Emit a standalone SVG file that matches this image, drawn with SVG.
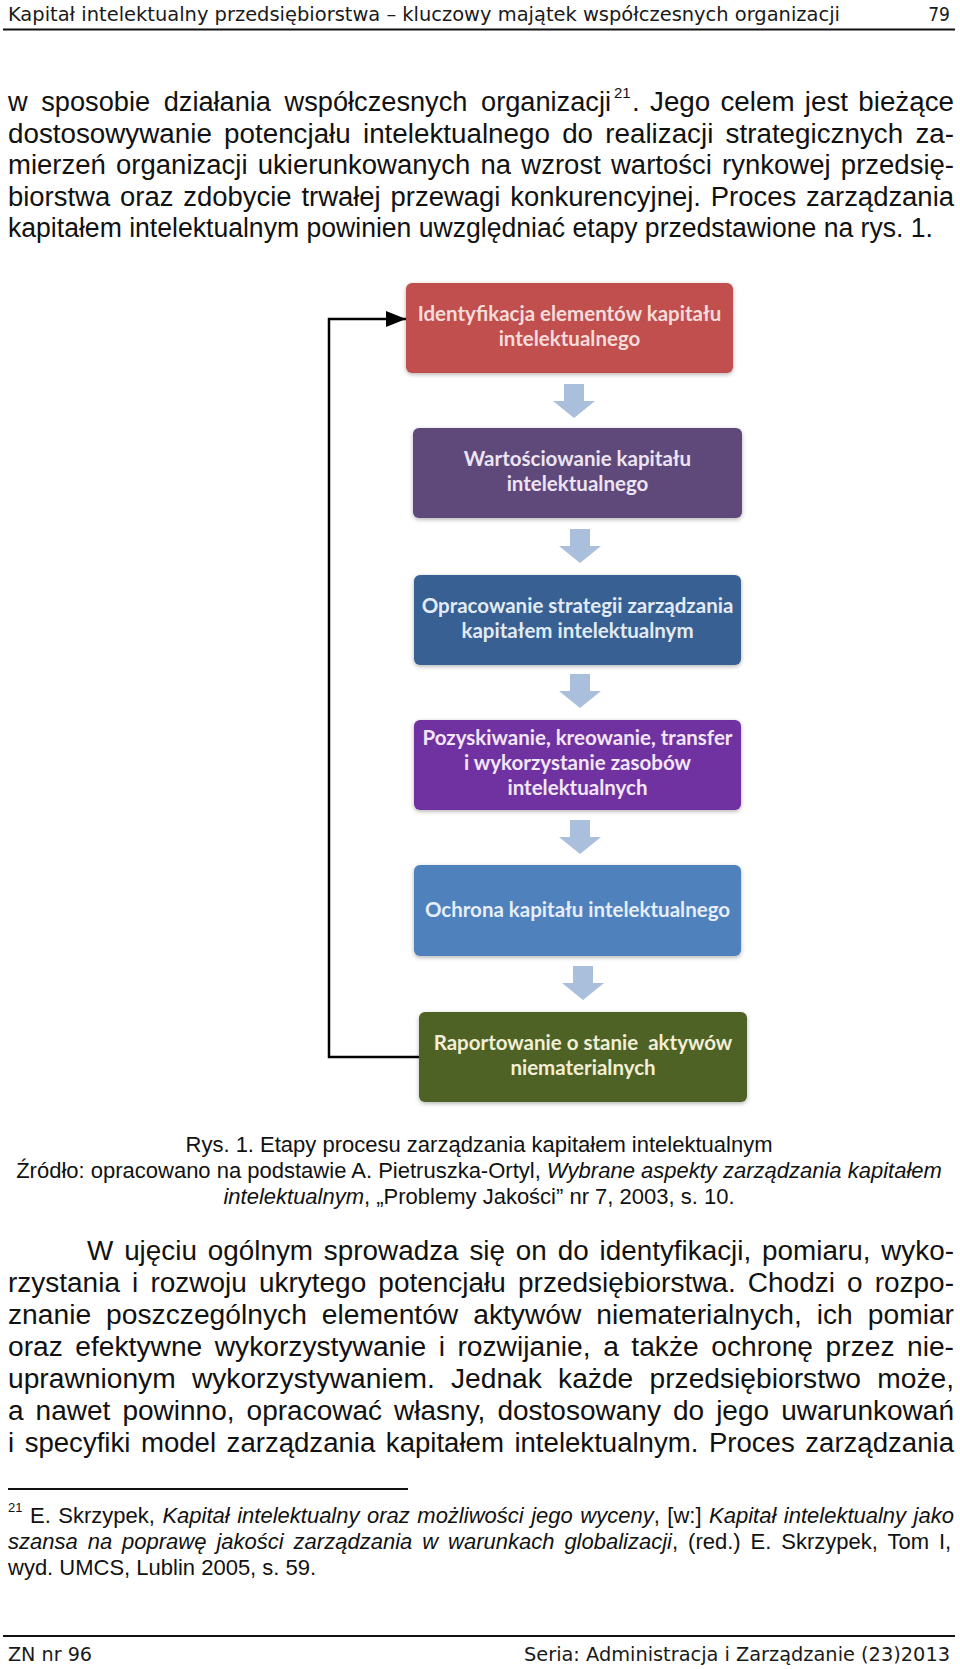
<svg xmlns="http://www.w3.org/2000/svg" xmlns:xlink="http://www.w3.org/1999/xlink" width="960" height="1669" viewBox="0 0 960 1669">
<style>
.bg{fill:#ffffff}
.hdr{font-family:"DejaVu Sans Condensed","DejaVu Sans","Liberation Sans",sans-serif;font-size:19px;fill:#1a1a1a}
.body{font-family:"Liberation Sans",Arial,sans-serif;font-size:27px;fill:#111}
.sup{font-family:"Liberation Sans",Arial,sans-serif;font-size:15px;fill:#111}
.cap{font-family:"Liberation Sans",Arial,sans-serif;font-size:22px;fill:#111}
.fn{font-family:"Liberation Sans",Arial,sans-serif;font-size:22px;fill:#111}
.fnsup{font-family:"Liberation Sans",Arial,sans-serif;font-size:13px;fill:#111}
.it{font-style:italic}
.rule{stroke:#111;stroke-width:2;fill:none}
.lbl{font-family:Lato,"Open Sans","Liberation Sans",sans-serif;font-size:20.5px;font-weight:bold;text-anchor:middle}
.blk{fill:#a9bfdc}
.fb{stroke:#000;stroke-width:2.5;fill:none}
</style>
<defs>
<filter id="sh" x="-10%" y="-10%" width="120%" height="130%">
<feDropShadow dx="0" dy="1.5" stdDeviation="2" flood-color="#000" flood-opacity="0.3"/>
</filter>
<path id="blk" d="M-10,0 H10 V17 H21 L0,34 L-21,17 H-10 Z"/>
<marker id="ah" markerUnits="userSpaceOnUse" markerWidth="20" markerHeight="16" refX="20" refY="8" orient="auto">
<path d="M0,0 L20,8 L0,16 Z" fill="#000"/>
</marker>
</defs>
<rect class="bg" x="0" y="0" width="960" height="1669"/>

<g id="header">
<text class="hdr" x="8" y="21" textLength="832" lengthAdjust="spacingAndGlyphs">Kapitał intelektualny przedsiębiorstwa – kluczowy majątek współczesnych organizacji</text>
<text class="hdr" x="950" y="21" text-anchor="end">79</text>
<line class="rule" x1="3" y1="29.5" x2="955" y2="29.5"/>
</g>

<g id="paragraph-1">
<text class="body" x="8" y="111" word-spacing="6" textLength="603" lengthAdjust="spacingAndGlyphs">w sposobie działania współczesnych organizacji</text>
<text class="sup" x="614" y="98">21</text>
<text class="body" x="632" y="111" word-spacing="2.5" textLength="322" lengthAdjust="spacingAndGlyphs">. Jego celem jest bieżące</text>
<text class="body" x="8" y="142.6" word-spacing="4.4" textLength="946" lengthAdjust="spacingAndGlyphs">dostosowywanie potencjału intelektualnego do realizacji strategicznych za-</text>
<text class="body" x="8" y="174.2" word-spacing="2.5" textLength="946" lengthAdjust="spacingAndGlyphs">mierzeń organizacji ukierunkowanych na wzrost wartości rynkowej przedsię-</text>
<text class="body" x="8" y="205.8" word-spacing="2.2" textLength="946" lengthAdjust="spacingAndGlyphs">biorstwa oraz zdobycie trwałej przewagi konkurencyjnej. Proces zarządzania</text>
<text class="body" x="8" y="237.4" textLength="925" lengthAdjust="spacingAndGlyphs">kapitałem intelektualnym powinien uwzględniać etapy przedstawione na rys. 1.</text>
</g>

<g id="connectors">
<use xlink:href="#blk" href="#blk" class="blk" x="574" y="384"/>
<use xlink:href="#blk" href="#blk" class="blk" x="580" y="529"/>
<use xlink:href="#blk" href="#blk" class="blk" x="580" y="674"/>
<use xlink:href="#blk" href="#blk" class="blk" x="580" y="820"/>
<use xlink:href="#blk" href="#blk" class="blk" x="583" y="966"/>
<path class="fb" d="M419,1057 H329 V319 H406" marker-end="url(#ah)"/>
</g>

<g id="node-1">
<rect x="406" y="283" width="327" height="90" rx="6" fill="#c0504d" filter="url(#sh)"/>
<text class="lbl" fill="#f4dcdb" x="569.5" y="321">Identyfikacja elementów kapitału</text>
<text class="lbl" fill="#f4dcdb" x="569.5" y="346">intelektualnego</text>
</g>

<g id="node-2">
<rect x="413" y="428" width="329" height="90" rx="6" fill="#5f497a" filter="url(#sh)"/>
<text class="lbl" fill="#ece4f2" x="577.5" y="466">Wartościowanie kapitału</text>
<text class="lbl" fill="#ece4f2" x="577.5" y="491">intelektualnego</text>
</g>

<g id="node-3">
<rect x="414" y="575" width="327" height="90" rx="6" fill="#376092" filter="url(#sh)"/>
<text class="lbl" fill="#e2ebf5" x="577.5" y="613">Opracowanie strategii zarządzania</text>
<text class="lbl" fill="#e2ebf5" x="577.5" y="638">kapitałem intelektualnym</text>
</g>

<g id="node-4">
<rect x="414" y="720" width="327" height="90" rx="6" fill="#7030a0" filter="url(#sh)"/>
<text class="lbl" fill="#f3e6f8" x="577.5" y="745">Pozyskiwanie, kreowanie, transfer</text>
<text class="lbl" fill="#f3e6f8" x="577.5" y="770">i wykorzystanie zasobów</text>
<text class="lbl" fill="#f3e6f8" x="577.5" y="795">intelektualnych</text>
</g>

<g id="node-5">
<rect x="414" y="865" width="327" height="91" rx="6" fill="#4f81bd" filter="url(#sh)"/>
<text class="lbl" fill="#e6eef8" x="577.5" y="917">Ochrona kapitału intelektualnego</text>
</g>

<g id="node-6">
<rect x="419" y="1012" width="328" height="90" rx="6" fill="#4f6228" filter="url(#sh)"/>
<text class="lbl" fill="#f2efd6" x="583" y="1050" xml:space="preserve">Raportowanie o stanie  aktywów</text>
<text class="lbl" fill="#f2efd6" x="583" y="1075">niematerialnych</text>
</g>

<g id="caption">
<text class="cap" x="479" y="1152" text-anchor="middle">Rys. 1. Etapy procesu zarządzania kapitałem intelektualnym</text>
<text class="cap" x="479" y="1178" text-anchor="middle">Źródło: opracowano na podstawie A. Pietruszka-Ortyl, <tspan class="it">Wybrane aspekty zarządzania kapitałem</tspan></text>
<text class="cap" x="479" y="1204" text-anchor="middle"><tspan class="it">intelektualnym</tspan>, „Problemy Jakości” nr 7, 2003, s. 10.</text>
</g>

<g id="paragraph-2">
<text class="body" x="87" y="1260" word-spacing="3" textLength="867" lengthAdjust="spacingAndGlyphs">W ujęciu ogólnym sprowadza się on do identyfikacji, pomiaru, wyko-</text>
<text class="body" x="8" y="1292" word-spacing="4.2" textLength="946" lengthAdjust="spacingAndGlyphs">rzystania i rozwoju ukrytego potencjału przedsiębiorstwa. Chodzi o rozpo-</text>
<text class="body" x="8" y="1324" word-spacing="6.8" textLength="946" lengthAdjust="spacingAndGlyphs">znanie poszczególnych elementów aktywów niematerialnych, ich pomiar</text>
<text class="body" x="8" y="1356" word-spacing="4.5" textLength="946" lengthAdjust="spacingAndGlyphs">oraz efektywne wykorzystywanie i rozwijanie, a także ochronę przez nie-</text>
<text class="body" x="8" y="1388" word-spacing="8" textLength="946" lengthAdjust="spacingAndGlyphs">uprawnionym wykorzystywaniem. Jednak każde przedsiębiorstwo może,</text>
<text class="body" x="8" y="1420" word-spacing="4.1" textLength="946" lengthAdjust="spacingAndGlyphs">a nawet powinno, opracować własny, dostosowany do jego uwarunkowań</text>
<text class="body" x="8" y="1452" word-spacing="2.8" textLength="946" lengthAdjust="spacingAndGlyphs">i specyfiki model zarządzania kapitałem intelektualnym. Proces zarządzania</text>
</g>

<g id="footnote">
<line class="rule" x1="8" y1="1489" x2="408" y2="1489"/>
<text class="fnsup" x="8" y="1512">21</text>
<text class="fn" x="30" y="1523" word-spacing="1.4">E. Skrzypek, <tspan class="it">Kapitał intelektualny oraz możliwości jego wyceny</tspan>, [w:] <tspan class="it">Kapitał intelektualny jako</tspan></text>
<text class="fn" x="8" y="1549" word-spacing="3.84"><tspan class="it">szansa na poprawę jakości zarządzania w warunkach globalizacji</tspan>, (red.) E. Skrzypek, Tom I,</text>
<text class="fn" x="8" y="1575">wyd. UMCS, Lublin 2005, s. 59.</text>
</g>

<g id="footer">
<line class="rule" x1="3" y1="1636" x2="955" y2="1636"/>
<text class="hdr" x="8" y="1661" textLength="84" lengthAdjust="spacingAndGlyphs">ZN nr 96</text>
<text class="hdr" x="524" y="1661" textLength="426" lengthAdjust="spacingAndGlyphs">Seria: Administracja i Zarządzanie (23)2013</text>
</g>
</svg>
